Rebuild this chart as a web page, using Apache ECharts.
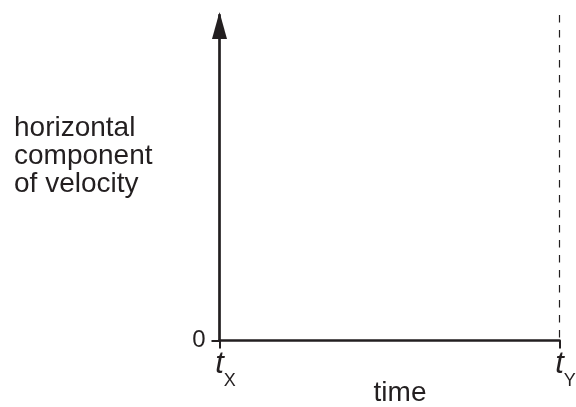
<!DOCTYPE html>
<html>
<head>
<meta charset="utf-8">
<script src="https://cdn.jsdelivr.net/npm/echarts@6/dist/echarts.min.js"></script>
<style>
  html, body { margin: 0; padding: 0; background: #fff; }
  #chart { width: 576px; height: 407px; }
</style>
</head>
<body>
<div id="chart"></div>
<script>
// axis ticks and labels
var xTickValues = [0, 1];
var xTickSubs = ['X', 'Y'];
var yTickValues = [0];
var yTickLabels = ['0'];
// dashed guide at t_Y, drawn top to bottom
var guideX = 1;
var guideYs = [1, 0];

var ink = '#231f20';
var font = "'Liberation Sans', Arial, sans-serif";

var dom = document.getElementById('chart');
var myChart = echarts.init(dom);

var option = {
  animation: false,
  // y axis name sits left of the axis, lines left-aligned
  title: {
    text: 'horizontal\ncomponent\nof velocity',
    left: 14,
    top: 114.3,
    padding: 0,
    textStyle: {
      color: ink,
      fontFamily: font,
      fontSize: 28,
      lineHeight: 28,
      fontWeight: 'normal'
    }
  },
  grid: {
    left: 219.5,
    right: 16.5,
    top: 15,
    bottom: 66.5,
    containLabel: false,
    outerBoundsMode: 'none'
  },
  xAxis: {
    type: 'value',
    min: 0,
    max: 1,
    name: 'time',
    nameLocation: 'middle',
    nameGap: 38.5,
    nameMoveOverlap: false,
    nameTextStyle: {
      color: ink,
      fontFamily: font,
      fontSize: 28,
      lineHeight: 28,
      padding: [0, 0, 0, 21]
    },
    axisLine: { lineStyle: { color: ink, width: 2.7 } },
    axisTick: {
      customValues: xTickValues,
      length: 8,
      lineStyle: { color: ink, width: 2 }
    },
    axisLabel: {
      customValues: xTickValues,
      margin: 8.4,
      color: ink,
      fontFamily: font,
      formatter: function (val) {
        var i = xTickValues.indexOf(val);
        return '{p|}{t|t}{s|' + xTickSubs[i] + '}';
      },
      rich: {
        p: { width: 12 },
        t: { fontStyle: 'italic', fontSize: 31, lineHeight: 31, verticalAlign: 'top', fontFamily: font, color: ink },
        s: { fontSize: 18, lineHeight: 18, verticalAlign: 'top', padding: [23, 0, 0, 0], fontFamily: font, color: ink }
      }
    },
    splitLine: { show: false }
  },
  yAxis: {
    type: 'value',
    min: 0,
    max: 1,
    axisLine: {
      lineStyle: { color: ink, width: 2.7 },
      symbol: ['none', 'triangle'],
      symbolSize: [15, 27],
      symbolOffset: [0, -10.5]
    },
    axisTick: {
      show: true,
      customValues: yTickValues,
      length: 8,
      lineStyle: { color: ink, width: 2 }
    },
    axisLabel: {
      customValues: yTickValues,
      margin: 14,
      color: ink,
      fontFamily: font,
      fontSize: 24,
      formatter: function (val) {
        return yTickLabels[yTickValues.indexOf(val)];
      }
    },
    splitLine: { show: false }
  },
  series: [
    {
      type: 'line',
      clip: false,
      silent: true,
      symbol: 'none',
      data: guideYs.map(function (y) { return [guideX, y]; }),
      lineStyle: { color: ink, width: 1.2, type: [7.5, 7.5] }
    }
  ]
};

if (option && typeof option === 'object') {
  myChart.setOption(option, true);
}
</script>
</body>
</html>
